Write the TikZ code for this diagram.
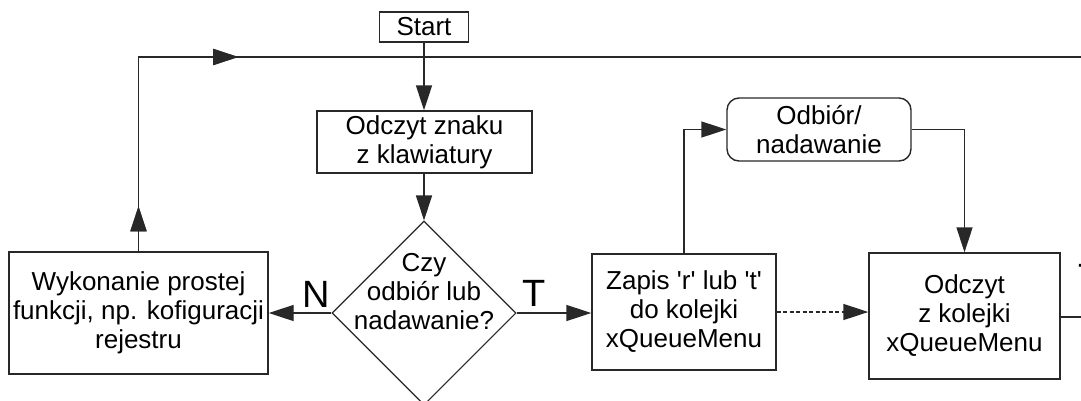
\documentclass[tikz,border=0pt]{standalone}
\usepackage{fontspec}
\setmainfont{Liberation Sans}
\usetikzlibrary{arrows.meta,shapes.geometric,decorations.markings}

\definecolor{ink}{RGB}{40,40,40}

\tikzset{
  tip/.style={-{Triangle[length=25pt,width=16pt]}},
  flowline/.style={draw=ink, line width=1.4pt},
  stepbox/.style={draw=ink, line width=1.4pt, rectangle, inner sep=0pt, align=center,
    font=\fontsize{26pt}{29pt}\selectfont},
  roundbox/.style={stepbox, rounded corners=12pt},
  decisionbox/.style={draw=ink, line width=1.1pt, diamond, inner sep=0pt, aspect=1},
  bodytext/.style={inner sep=0pt, align=center, font=\fontsize{26pt}{29pt}\selectfont},
  branchlabel/.style={inner sep=0pt, font=\fontsize{38pt}{40pt}\selectfont},
  midtip/.style={postaction={decorate}, decoration={markings,
    mark=at position #1 with {\arrow{Triangle[length=25pt,width=16pt]}}}},
  qdash/.style={dash pattern=on 4pt off 2.5pt}
}
\newcommand{\sq}{\textquotesingle}

\begin{document}
\begin{tikzpicture}[x=1pt, y=-1pt]
  \useasboundingbox (0,0) rectangle (1081,400);
  \clip (0,0) rectangle (1081,400);
  \fill[white] (0,0) rectangle (1081,400);

  % nodes
  \node[stepbox, minimum width=89pt, minimum height=30pt] (start) at (424,27) {Start};
  \node[stepbox, minimum width=215pt, minimum height=62pt] (readkey) at (424.5,142)
    {Odczyt znaku\\z klawiatury};
  \node[decisionbox, minimum width=184pt, minimum height=184pt] (dec) at (424,313) {};
  \node[bodytext] (dectext) at (424,292) {Czy\\odbiór lub\\nadawanie?};
  \node[stepbox, minimum width=259pt, minimum height=122pt] (exec) at (138.5,313)
    {Wykonanie prostej\\funkcji, np. kofiguracji\\rejestru};
  \node[stepbox, minimum width=184pt, minimum height=116pt] (zapis) at (684,312)
    {Zapis \sq r\sq{} lub \sq t\sq\\do kolejki\\xQueueMenu};
  \node[roundbox, minimum width=184pt, minimum height=63pt] (odbior) at (819,129.5)
    {Odbiór/\\nadawanie};
  \node[stepbox, minimum width=191pt, minimum height=126pt] (okol) at (964.5,316)
    {Odczyt\\z kolejki\\xQueueMenu};

  \node[branchlabel] (labN) at (316,294) {N};
  \node[branchlabel] (labT) at (534.5,293.5) {T};
  \node[branchlabel] (labT2) at (1090.5,277) {T};

  \coordinate (loopR) at (1081,57);
  \coordinate (outR) at (1081,317);

  % connectors
  \draw[flowline, midtip=45pt, midtip=294pt] (exec.north) |- (loopR);
  \draw[flowline, tip] (start.south) -- (readkey.north -| start.south);
  \draw[flowline, tip] (readkey.south -| dec.north) -- (dec.north);
  \draw[flowline, tip] (dec.west) -- (exec.east);
  \draw[flowline, tip] (dec.east) -- (zapis.west |- dec.east);
  \draw[flowline, tip] (zapis.north) |- (odbior.west);
  \draw[flowline, tip] (odbior.east) -| (okol.north);
  \draw[flowline, qdash, tip] (zapis.east) -- (okol.west |- zapis.east);
  \draw[flowline] (okol.east |- outR) -- (outR);
\end{tikzpicture}
\end{document}
